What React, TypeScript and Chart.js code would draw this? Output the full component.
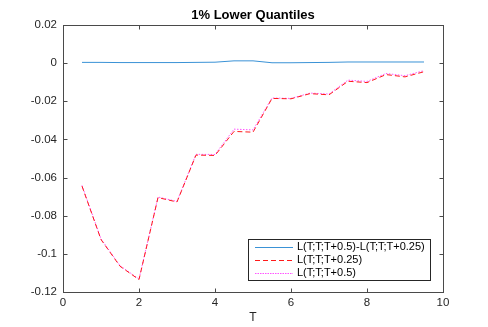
import React, { useEffect, useRef } from "react";
import { Chart, registerables } from "chart.js";

Chart.register(...registerables);

const T_VALUES = [0.5, 1, 1.5, 2, 2.5, 3, 3.5, 4, 4.5, 5, 5.5, 6, 6.5, 7, 7.5, 8, 8.5, 9, 9.5];
const L_025 = [-0.0645, -0.0925, -0.1065, -0.1135, -0.0705, -0.0728, -0.0482, -0.0484, -0.0358, -0.0362, -0.0185, -0.0187, -0.016, -0.0166, -0.0095, -0.0102, -0.006, -0.0072, -0.0045];
const L_05 = [-0.0641, -0.0921, -0.1062, -0.1132, -0.0702, -0.0725, -0.0478, -0.0479, -0.0346, -0.035, -0.0183, -0.0185, -0.0157, -0.0162, -0.0089, -0.0096, -0.0054, -0.0066, -0.0039];
const L_DIFF = [0.0004, 0.0004, 0.0003, 0.0003, 0.0003, 0.0003, 0.0004, 0.0005, 0.0012, 0.0012, 0.0002, 0.0002, 0.0003, 0.0004, 0.0006, 0.0006, 0.0006, 0.0006, 0.0006];
const SERIES_LABELS = ["L(T;T;T+0.5)-L(T;T;T+0.25)", "L(T;T;T+0.25)", "L(T;T;T+0.5)"];
const TITLE = "1% Lower Quantiles";
const X_LABEL = "T";
const X_TICKS = [0, 2, 4, 6, 8, 10];
const Y_TICKS = [-0.12, -0.1, -0.08, -0.06, -0.04, -0.02, 0, 0.02];

const FONT = "'Liberation Sans', Arial, Helvetica, sans-serif";
const AXIS_COLOR = "#4a4a4a";
const TEXT_COLOR = "#262626";
const COLORS = ["#3a92d6", "#ff1a1a", "#ff55ff"];
const DASHES = [[], [5, 3], [1.5, 1.5]];
const LEGEND_DASHES = [[], [5, 3], [1.5, 1]];

const toPts = (ys: number[]) => T_VALUES.map((x, i) => ({ x, y: ys[i] }));

const fmtY = (v: number) => {
  const r = Math.round(v * 100) / 100;
  if (Math.abs(r) < 1e-9) return "0";
  return String(r);
};

const decorPlugin = {
  id: "matlabDecor",
  afterDatasetsDraw(chart: any) {
    const { ctx, chartArea, scales } = chart;
    const { left, right, top, bottom } = chartArea;
    const L = Math.round(left) + 0.5;
    const R = Math.round(right) + 0.5;
    const T = Math.round(top) + 0.5;
    const B = Math.round(bottom) + 0.5;
    ctx.save();
    ctx.strokeStyle = AXIS_COLOR;
    ctx.lineWidth = 1;
    ctx.setLineDash([]);
    ctx.strokeRect(L, T, R - L, B - T);
    const tl = 4;
    ctx.beginPath();
    X_TICKS.forEach((v) => {
      const px = Math.round(scales.x.getPixelForValue(v)) + 0.5;
      ctx.moveTo(px, B);
      ctx.lineTo(px, B - tl);
      ctx.moveTo(px, T);
      ctx.lineTo(px, T + tl);
    });
    Y_TICKS.forEach((v) => {
      const py = Math.round(scales.y.getPixelForValue(v)) + 0.5;
      ctx.moveTo(L, py);
      ctx.lineTo(L + tl, py);
      ctx.moveTo(R, py);
      ctx.lineTo(R - tl, py);
    });
    ctx.stroke();

    // title
    ctx.fillStyle = "#000";
    ctx.font = `bold 13px ${FONT}`;
    ctx.textAlign = "center";
    ctx.textBaseline = "middle";
    ctx.fillText(TITLE, (left + right) / 2, 15);

    // x label
    ctx.fillStyle = TEXT_COLOR;
    ctx.font = `12px ${FONT}`;
    ctx.fillText(X_LABEL, (left + right) / 2, 318);

    // legend
    const lx = 248.5, ly = 239.5, lw = 182, lh = 41;
    ctx.fillStyle = "#fff";
    ctx.fillRect(lx, ly, lw, lh);
    ctx.strokeStyle = "#262626";
    ctx.strokeRect(lx, ly, lw, lh);
    ctx.font = `11px ${FONT}`;
    ctx.textAlign = "left";
    ctx.textBaseline = "middle";
    chart.data.datasets.forEach((ds: any, i: number) => {
      const cy = 246.5 + i * 13.3;
      ctx.strokeStyle = COLORS[i];
      ctx.lineWidth = 1;
      ctx.setLineDash(LEGEND_DASHES[i]);
      ctx.beginPath();
      ctx.moveTo(255, Math.round(cy) + 0.5);
      ctx.lineTo(293, Math.round(cy) + 0.5);
      ctx.stroke();
      ctx.setLineDash([]);
      ctx.fillStyle = "#000";
      ctx.fillText(ds.label, 297, cy);
    });
    ctx.restore();
  },
};

export default function App() {
  const ref = useRef<HTMLCanvasElement>(null);
  useEffect(() => {
    document.body.style.margin = "0";
    const series = [L_DIFF, L_025, L_05];
    const chart = new Chart(ref.current as HTMLCanvasElement, {
      type: "line",
      data: {
        datasets: series.map((ys, i) => ({
          label: SERIES_LABELS[i],
          data: toPts(ys),
          borderColor: COLORS[i],
          borderWidth: 1,
          borderDash: DASHES[i],
          pointRadius: 0,
          tension: 0,
          fill: false,
        })),
      },
      options: {
        animation: false,
        responsive: false,
        devicePixelRatio: 1,
        layout: { padding: { top: 25, right: 45, left: 0, bottom: 0 } },
        plugins: { legend: { display: false }, title: { display: false }, tooltip: { enabled: false } },
        scales: {
          x: {
            type: "linear",
            min: 0,
            max: 10,
            afterBuildTicks: (s: any) => { s.ticks = X_TICKS.map((v) => ({ value: v })); },
            afterFit: (s: any) => { s.height = 35; },
            grid: { display: false, drawTicks: false },
            border: { display: false },
            ticks: { padding: 4, color: TEXT_COLOR, font: { family: FONT, size: 11.5 }, maxRotation: 0, callback: (v: any) => String(v) },
          },
          y: {
            type: "linear",
            min: -0.12,
            max: 0.02,
            afterBuildTicks: (s: any) => { s.ticks = Y_TICKS.map((v) => ({ value: v })); },
            afterFit: (s: any) => { s.width = 63; },
            grid: { display: false, drawTicks: false },
            border: { display: false },
            ticks: { padding: 6, color: TEXT_COLOR, font: { family: FONT, size: 11.5 }, callback: (v: any) => fmtY(Number(v)) },
          },
        },
      },
      plugins: [decorPlugin],
    } as any);
    return () => chart.destroy();
  }, []);
  return (
    <div style={{ position: "absolute", left: 0, top: 0, width: 488, height: 327, background: "#fff" }}>
      <canvas ref={ref} width={488} height={327} style={{ width: 488, height: 327, display: "block" }} />
    </div>
  );
}
